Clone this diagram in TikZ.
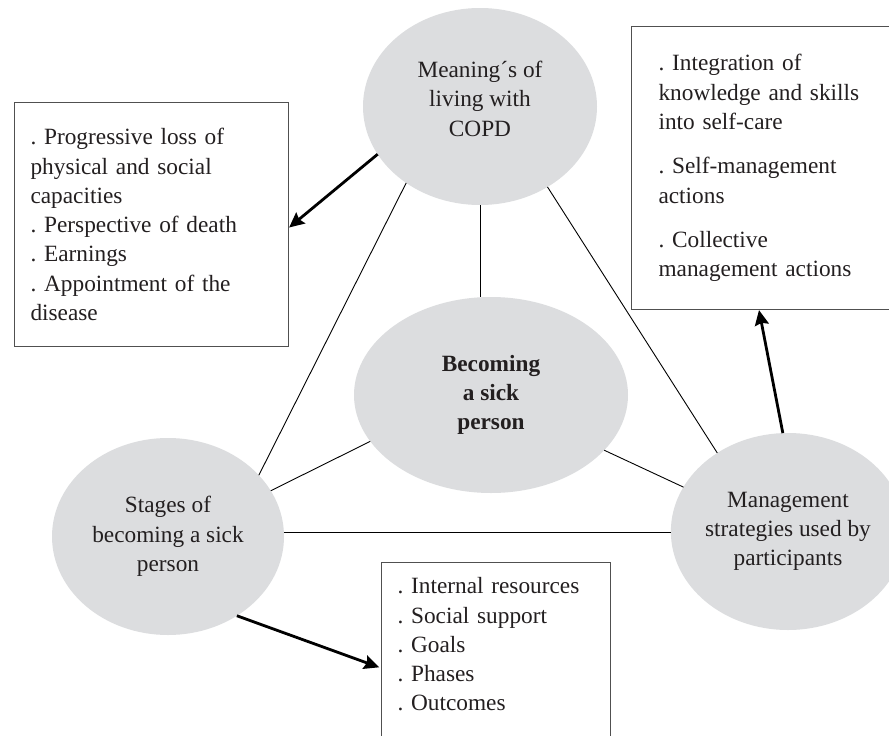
\documentclass[tikz,border=0pt]{standalone}
\usepackage{fontspec}
\setmainfont{Liberation Serif}
\usetikzlibrary{shapes.geometric,arrows.meta,calc}
\definecolor{ellfill}{RGB}{220,221,223}
\definecolor{txt}{RGB}{35,31,32}
\definecolor{boxline}{RGB}{80,80,80}
\frenchspacing
\begin{document}
\begin{tikzpicture}[x=1pt,y=-1pt,
  every node/.style={font=\fontsize{23.3}{29.3}\selectfont, text=txt},
  ell/.style={ellipse, fill=ellfill, draw=none, inner sep=0pt, outer sep=0pt, align=center},
  boxnode/.style={rectangle, draw=boxline, line width=1.1pt, fill=white, align=left, anchor=north west, inner ysep=15pt},
  link/.style={draw=black, line width=0.9pt},
  arr/.style={draw=black, line width=2.8pt, -{Stealth[length=15pt,width=14pt,inset=2pt]}}
]
\useasboundingbox (0,0) rectangle (889,736);
\clip (0,0) rectangle (889,736);
\fill[white] (0,0) rectangle (889,736);

% ellipses
\node[ell, minimum width=234pt, minimum height=197pt] (top) at (480,106.5)
  {Meaning´s of\\living with\\COPD\rule[-16pt]{0pt}{16pt}};
\node[ell, minimum width=274pt, minimum height=196pt, font=\fontsize{23.3}{29.3}\selectfont\bfseries] (cen) at (491,395)
  {Becoming\\a sick\\person};
\node[ell, minimum width=232pt, minimum height=197pt] (left) at (168,536.5)
  {Stages of\\becoming a sick\\person};
\node[ell, minimum width=232pt, minimum height=197pt] (right) at (788,531.5)
  {Management\\strategies used by\\participants};

% boxes
\node[boxnode, text width=242pt, inner xsep=16pt, minimum height=244pt] (lbox) at (14,102)
  {. Progressive loss of\\physical and social\\capacities\\. Perspective of death\\. Earnings\\. Appointment of the\\disease};
\node[boxnode, text width=230pt, inner xsep=27pt, minimum height=283pt] (rbox) at (631,26)
  {. Integration of\\knowledge and skills\\into self-care\\[15pt]. Self-management\\actions\\[15pt]. Collective\\management actions};
\node[boxnode, text width=197pt, inner xsep=16pt] (botbox) at (381,562)
  {. Internal resources\\. Social support\\. Goals\\. Phases\\. Outcomes\rule[-40pt]{0pt}{40pt}};

% connectors
\draw[link] (top.226.7) -- (left.34.9);
\draw[link] (top.south) -- (top.south |- cen.north);
\draw[link] (top.310.6) -- (right.132.9);
\draw[link] (cen.201.8) -- (left.24.4);
\draw[link] (cen.334.8) -- (right.157.3);
\draw[link] (left.2.2) -- (left.2.2 -| right.west);

% arrows
\draw[arr] (top.205.9) -- ($(lbox.east)+(0,3)$);
\draw[arr, shorten >=2pt] (left.311.1) -- ($(botbox.north west)+(0,106)$);
\draw[arr] (right.93.5) -- ($(rbox.south west)+(128,0)$);
\end{tikzpicture}
\end{document}
